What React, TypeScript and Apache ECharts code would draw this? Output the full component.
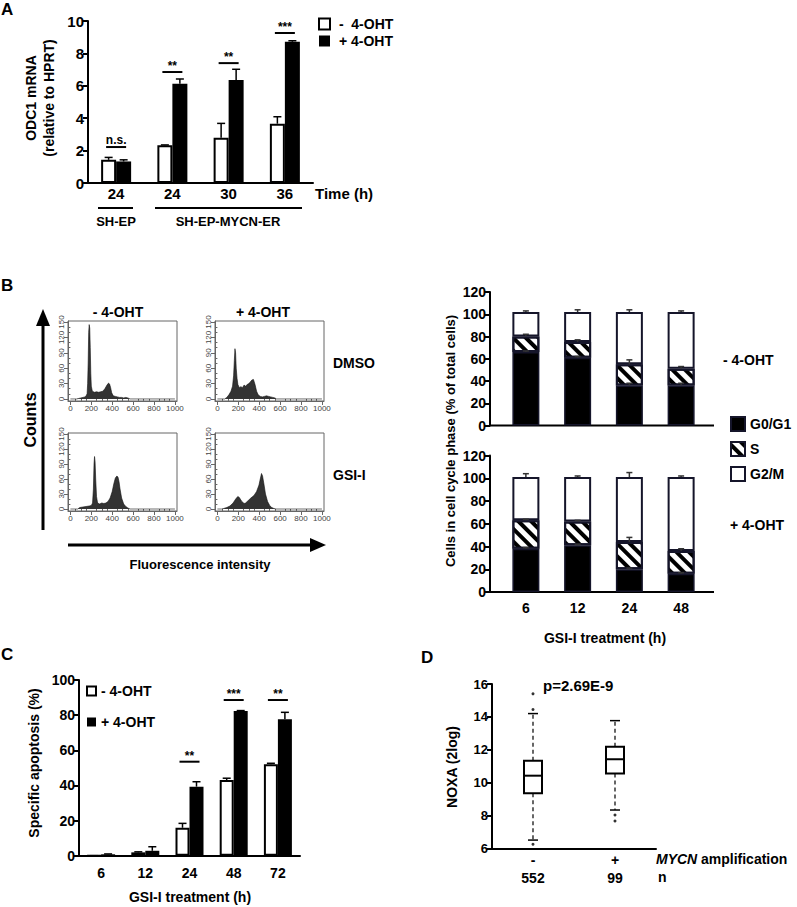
import React, { useEffect, useRef } from 'react';
import * as echarts from 'echarts';

const FONT = '"Liberation Sans", Arial, Helvetica, sans-serif';

// ---------- Panel A ----------
const aTimes = ['24', '24', '30', '36'];
const aMinus = [1.43, 2.33, 2.8, 3.66];
const aMinusErr = [0.15, 0.02, 0.88, 0.43];
const aPlus = [1.33, 6.13, 6.36, 8.72];
const aPlusErr = [0.1, 0.29, 0.66, 0.06];
const aSigIdx = [0, 1, 2, 3];
const aSigY = [2.22, 6.85, 7.4, 9.26];
const aSigLabels = ['n.s.', '**', '**', '***'];

// ---------- Panel B: flow histograms [fluorescence, counts] ----------
const histXMajor = [0, 200, 400, 600, 800, 1000];
const histXMinor = [50, 100, 150, 250, 300, 350, 450, 500, 550, 650, 700, 750, 850, 900, 950];
const histYMajor = [0, 30, 60, 90, 120, 150];
const histYMinor = [10, 20, 40, 50, 70, 80, 100, 110, 130, 140];
const histDmsoMinus = [[0, 0], [60, 0], [80, 1], [100, 2], [120, 3], [140, 4], [150, 6], [160, 10], [165, 30], [170, 70], [175, 130], [180, 145], [185, 138], [190, 100], [195, 50], [200, 25], [210, 15], [230, 13], [250, 14], [270, 13], [290, 14], [310, 15], [330, 20], [350, 27], [365, 31], [375, 29], [385, 22], [395, 12], [410, 6], [430, 5], [450, 4], [470, 3], [490, 3], [510, 2], [530, 3], [550, 2], [570, 0], [1000, 0]];
const histDmsoPlus = [[0, 0], [70, 0], [90, 3], [110, 8], [130, 15], [145, 25], [155, 45], [162, 75], [168, 98], [174, 90], [180, 60], [188, 40], [196, 28], [210, 22], [225, 24], [240, 22], [255, 27], [270, 25], [285, 28], [300, 30], [315, 33], [330, 37], [345, 38], [360, 28], [375, 15], [390, 8], [410, 5], [430, 4], [450, 5], [470, 6], [490, 5], [510, 4], [530, 3], [550, 2], [565, 0], [1000, 0]];
const histGsiMinus = [[0, 0], [70, 0], [90, 3], [120, 4], [150, 5], [180, 6], [200, 7], [212, 12], [220, 40], [226, 90], [231, 105], [236, 95], [242, 60], [250, 25], [260, 12], [280, 10], [300, 12], [320, 11], [340, 12], [360, 15], [380, 22], [400, 35], [415, 50], [430, 62], [445, 66], [455, 64], [465, 55], [475, 40], [490, 22], [510, 10], [530, 5], [550, 2], [570, 0], [1000, 0]];
const histGsiPlus = [[0, 0], [40, 0], [60, 1], [90, 3], [120, 6], [150, 12], [175, 20], [195, 25], [210, 23], [230, 16], [255, 11], [270, 12], [290, 16], [320, 22], [350, 27], [375, 35], [398, 48], [410, 60], [422, 71], [432, 66], [445, 50], [460, 30], [480, 15], [500, 7], [520, 3], [540, 1], [560, 0], [1000, 0]];

// ---------- Panel B: cell cycle stacked bars ----------
const bHours = ['6', '12', '24', '48'];
const bMinusG0 = [66, 61, 36, 36];
const bMinusS = [14, 14, 19, 15];
const bMinusG2 = [22, 27, 47, 51];
const bMinusErrG0 = [1, 1, 2, 2];
const bMinusErrS = [2, 2, 4, 2];
const bMinusErrG2 = [1, 2, 2, 1];
const bPlusG0 = [38, 41, 20, 16];
const bPlusS = [25, 21, 24, 20];
const bPlusG2 = [38, 39, 57, 65];
const bPlusErrG0 = [1, 1, 1, 1];
const bPlusErrS = [1, 1, 4, 2];
const bPlusErrG2 = [3, 1, 4, 1];

// ---------- Panel C ----------
const cHours = ['6', '12', '24', '48', '72'];
const cMinus = [0, 1.9, 15.9, 43.1, 52];
const cMinusErr = [0, 0.3, 2.5, 1, 0.6];
const cPlus = [0.8, 2.8, 39.3, 82.4, 77.6];
const cPlusErr = [0.2, 2.3, 2.8, 0.2, 4];
const cSigIdx = [2, 3, 4];
const cSigY = [53.5, 88.6, 88.6];
const cSigLabels = ['**', '***', '**'];

// ---------- Panel D ----------
const dGroups = ['-', '+'];
const dCounts = ['552', '99'];
// [low whisker, q1, median, q3, high whisker]
const dBoxes = [
  [6.5, 9.35, 10.42, 11.33, 14.2],
  [8.33, 10.56, 11.42, 12.18, 13.77],
];
const dOutliers = [[0, 15.4], [0, 14.45], [0, 6.25], [1, 8.03], [1, 7.66]];

function buildOption() {
  const grid: any[] = [];
  const xAxis: any[] = [];
  const yAxis: any[] = [];
  const series: any[] = [];
  const B = '#000';
  const lbl = (size = 14, extra: any = {}) => ({ color: B, fontSize: size, fontWeight: 'bold', fontFamily: FONT, ...extra });
  const yStd = (gi: number, min: number, max: number, interval: number, size = 14, extra: any = {}) => ({
    gridIndex: gi, type: 'value', min, max, interval,
    axisLine: { show: true, lineStyle: { color: B, width: 2 } },
    axisTick: { show: true, length: 5, lineStyle: { color: B, width: 2 } },
    splitLine: { show: false },
    axisLabel: lbl(size, { margin: 4 }),
    ...extra,
  });

  const errSeries = (xi: number, yi: number, vals: number[], errs: number[], offset: number, cap: number, color = B) => ({
    type: 'custom', xAxisIndex: xi, yAxisIndex: yi, z: 4, silent: true,
    data: vals.map((v, i) => [i, v, errs[i]]),
    renderItem: (params: any, api: any) => {
      const i = api.value(0), v = api.value(1), e = api.value(2);
      const p0 = api.coord([i, v]);
      const p1 = api.coord([i, v + e]);
      const x = p0[0] + offset;
      return {
        type: 'group', children: [
          { type: 'line', shape: { x1: x, y1: p0[1], x2: x, y2: p1[1] }, style: { stroke: color, lineWidth: 1.5 } },
          { type: 'line', shape: { x1: x - cap, y1: p1[1], x2: x + cap, y2: p1[1] }, style: { stroke: color, lineWidth: 1.5 } },
        ],
      };
    },
  });

  const sigSeries = (xi: number, yi: number, idx: number[], ys: number[], labels: string[], hw: number) => ({
    type: 'custom', xAxisIndex: xi, yAxisIndex: yi, z: 4, silent: true,
    data: idx.map((c, k) => [c, ys[k]]),
    renderItem: (params: any, api: any) => {
      const p = api.coord([api.value(0), api.value(1)]);
      const label = labels[params.dataIndex];
      return {
        type: 'group', children: [
          { type: 'line', shape: { x1: p[0] - hw, y1: p[1], x2: p[0] + hw, y2: p[1] }, style: { stroke: B, lineWidth: 2 } },
          { type: 'text', x: p[0], y: p[1] - (label === 'n.s.' ? 1 : 0), style: { text: label, fill: B, font: `bold 12px ${FONT}`, textAlign: 'center', textVerticalAlign: 'bottom' } },
        ],
      };
    },
  });

  // ===== A =====
  grid.push({ left: 88, top: 21, width: 225, height: 162 });
  xAxis.push({
    gridIndex: 0, type: 'category', data: aTimes.map((_, i) => 'a' + i),
    axisLine: { show: true, lineStyle: { color: B, width: 2 } }, axisTick: { show: false },
    axisLabel: lbl(15, { margin: 3, formatter: (_v: string, i: number) => aTimes[i] }),
  });
  yAxis.push(yStd(0, 0, 10, 2, 15));
  series.push({ type: 'bar', name: '- 4-OHT', xAxisIndex: 0, yAxisIndex: 0, data: aMinus, barWidth: 15, barGap: '0%', itemStyle: { color: '#fff', borderColor: B, borderWidth: 2 } });
  series.push({ type: 'bar', name: '+ 4-OHT', xAxisIndex: 0, yAxisIndex: 0, data: aPlus, barWidth: 15, barGap: '0%', itemStyle: { color: B } });
  series.push(errSeries(0, 0, aMinus, aMinusErr, -7.5, 4));
  series.push(errSeries(0, 0, aPlus, aPlusErr, 7.5, 4));
  series.push(sigSeries(0, 0, aSigIdx, aSigY, aSigLabels, 10));

  // ===== B histograms =====
  const addHist = (left: number, top: number, height: number, data: number[][]) => {
    const gi = grid.length;
    grid.push({ left, top, width: 109, height, show: true, borderColor: '#666', borderWidth: 1 });
    const xi = xAxis.length;
    const yi = yAxis.length;
    const small = { fontSize: 8, color: '#444', fontFamily: FONT, fontWeight: 'normal', formatter: (v: number) => String(v) };
    xAxis.push({
      gridIndex: gi, type: 'value', position: 'bottom', min: -23, max: 1020,
      axisLine: { show: true, onZero: false, lineStyle: { color: '#666', width: 1 } },
      axisTick: { show: true, length: 4, customValues: histXMajor, lineStyle: { color: '#666' } },
      axisLabel: { show: true, customValues: histXMajor, margin: 3, ...small },
      splitLine: { show: false },
    });
    xAxis.push({
      gridIndex: gi, type: 'value', position: 'bottom', min: -23, max: 1020,
      axisLine: { show: false }, axisLabel: { show: false }, splitLine: { show: false },
      axisTick: { show: true, length: 2, customValues: histXMinor, lineStyle: { color: '#666' } },
    });
    yAxis.push({
      gridIndex: gi, type: 'value', position: 'left', min: -4, max: 152,
      axisLine: { show: true, onZero: false, lineStyle: { color: '#666', width: 1 } },
      axisTick: { show: true, length: 4, customValues: histYMajor, lineStyle: { color: '#666' } },
      axisLabel: { show: true, customValues: histYMajor, rotate: 90, margin: 3, ...small },
      splitLine: { show: false },
    });
    yAxis.push({
      gridIndex: gi, type: 'value', position: 'left', min: -4, max: 152,
      axisLine: { show: false }, axisLabel: { show: false }, splitLine: { show: false },
      axisTick: { show: true, length: 2, customValues: histYMinor, lineStyle: { color: '#666' } },
    });
    series.push({
      type: 'line', xAxisIndex: xi, yAxisIndex: yi, data, symbol: 'none', silent: true,
      lineStyle: { color: '#111', width: 0.6 }, areaStyle: { color: '#333', opacity: 1 },
    });
  };
  addHist(68, 321, 80, histDmsoMinus);
  addHist(215, 321, 80, histDmsoPlus);
  addHist(68, 433, 78, histGsiMinus);
  addHist(215, 433, 78, histGsiPlus);

  // ===== B stacked =====
  const hatch = {
    symbol: 'rect', symbolSize: 1, color: B,
    dashArrayX: [1, 0], dashArrayY: [4, 5], rotation: Math.PI / 4,
  };
  const barBorder = '#15152a';
  const addStack = (top: number, height: number, g0: number[], s: number[], g2: number[], e0: number[], es: number[], e2: number[], showLabels: boolean, stackId: string) => {
    const gi = grid.length;
    grid.push({ left: 500, top, width: 207, height });
    const xi = xAxis.length;
    const yi = yAxis.length;
    xAxis.push({
      gridIndex: gi, type: 'category', data: bHours,
      axisLine: { show: false }, axisTick: { show: false },
      axisLabel: showLabels ? lbl(14, { margin: 9 }) : { show: false },
    });
    yAxis.push(yStd(gi, 0, 120, 20, 14, { offset: 10 }));
    series.push({ type: 'bar', name: 'G0/G1', stack: stackId, xAxisIndex: xi, yAxisIndex: yi, data: g0, barWidth: 27, itemStyle: { color: B, borderColor: barBorder, borderWidth: 1.5 } });
    series.push({ type: 'bar', name: 'S', stack: stackId, xAxisIndex: xi, yAxisIndex: yi, data: s, barWidth: 27, itemStyle: { color: '#fff', borderColor: barBorder, borderWidth: 2, decal: hatch } });
    series.push({ type: 'bar', name: 'G2/M', stack: stackId, xAxisIndex: xi, yAxisIndex: yi, data: g2, barWidth: 27, itemStyle: { color: '#fff', borderColor: barBorder, borderWidth: 2 } });
    const top0 = g0;
    const top1 = g0.map((v, i) => v + s[i]);
    const top2 = top1.map((v, i) => v + g2[i]);
    series.push(errSeries(xi, yi, top0, e0, 0, 3, '#333'));
    series.push(errSeries(xi, yi, top1, es, 0, 3, '#333'));
    series.push(errSeries(xi, yi, top2, e2, 0, 3, '#333'));
  };
  addStack(292, 133.5, bMinusG0, bMinusS, bMinusG2, bMinusErrG0, bMinusErrS, bMinusErrG2, false, 'minus');
  addStack(455.5, 136.5, bPlusG0, bPlusS, bPlusG2, bPlusErrG0, bPlusErrS, bPlusErrG2, true, 'plus');

  // ===== C =====
  const cg = grid.length;
  grid.push({ left: 79, top: 680, width: 221, height: 175.7 });
  const cx = xAxis.length;
  const cy = yAxis.length;
  xAxis.push({
    gridIndex: cg, type: 'category', data: cHours,
    axisLine: { show: true, lineStyle: { color: B, width: 2 } }, axisTick: { show: false },
    axisLabel: lbl(14, { margin: 10 }),
  });
  yAxis.push(yStd(cg, 0, 100, 20, 14));
  series.push({ type: 'bar', name: '- 4-OHT', xAxisIndex: cx, yAxisIndex: cy, data: cMinus, barWidth: 14, barGap: '0%', itemStyle: { color: '#fff', borderColor: B, borderWidth: 2 } });
  series.push({ type: 'bar', name: '+ 4-OHT', xAxisIndex: cx, yAxisIndex: cy, data: cPlus, barWidth: 14, barGap: '0%', itemStyle: { color: B } });
  series.push(errSeries(cx, cy, cMinus, cMinusErr, -7, 4));
  series.push(errSeries(cx, cy, cPlus, cPlusErr, 7, 4));
  series.push(sigSeries(cx, cy, cSigIdx, cSigY, cSigLabels, 10));

  // ===== D =====
  const dg = grid.length;
  grid.push({ left: 492, top: 684, width: 164, height: 164.3 });
  const dx = xAxis.length;
  const dy = yAxis.length;
  xAxis.push({
    gridIndex: dg, type: 'category', data: dGroups,
    axisLine: { show: true, lineStyle: { color: B, width: 2 } }, axisTick: { show: false },
    axisLabel: lbl(14, { margin: 3, lineHeight: 18, formatter: (v: string, i: number) => v + '\n' + dCounts[i] }),
  });
  yAxis.push(yStd(dg, 6, 16, 2, 13));
  series.push({
    type: 'custom', xAxisIndex: dx, yAxisIndex: dy, silent: true,
    data: dBoxes.map((b, i) => [i, ...b]),
    renderItem: (params: any, api: any) => {
      const i = api.value(0);
      const lo = api.coord([i, api.value(1)]);
      const q1 = api.coord([i, api.value(2)]);
      const md = api.coord([i, api.value(3)]);
      const q3 = api.coord([i, api.value(4)]);
      const hi = api.coord([i, api.value(5)]);
      const x = md[0];
      const hw = 9, cw = 5;
      const dash = { stroke: B, lineWidth: 1.2, lineDash: [4, 3] };
      const solid = { stroke: B, lineWidth: 1.5 };
      return {
        type: 'group', children: [
          { type: 'line', shape: { x1: x, y1: q3[1], x2: x, y2: hi[1] }, style: dash },
          { type: 'line', shape: { x1: x, y1: q1[1], x2: x, y2: lo[1] }, style: dash },
          { type: 'line', shape: { x1: x - cw, y1: hi[1], x2: x + cw, y2: hi[1] }, style: solid },
          { type: 'line', shape: { x1: x - cw, y1: lo[1], x2: x + cw, y2: lo[1] }, style: solid },
          { type: 'rect', shape: { x: x - hw, y: q3[1], width: 2 * hw, height: q1[1] - q3[1] }, style: { fill: '#fff', stroke: B, lineWidth: 2 } },
          { type: 'line', shape: { x1: x - hw, y1: md[1], x2: x + hw, y2: md[1] }, style: { stroke: B, lineWidth: 2 } },
        ],
      };
    },
  });
  series.push({ type: 'scatter', xAxisIndex: dx, yAxisIndex: dy, data: dOutliers, symbol: 'circle', symbolSize: 3, itemStyle: { color: B }, silent: true });

  grid.forEach((g) => { g.outerBoundsMode = 'none'; g.containLabel = false; });

  // ===== Text & decorations =====
  const T = (x: number, y: number, text: string, size = 14, align = 'left', extra: any = {}) => ({
    type: 'text', x, y, silent: true,
    style: { text, fill: B, font: `bold ${size}px ${FONT}`, textAlign: align, textVerticalAlign: 'middle', ...extra },
  });
  const R = (x: number, y: number, text: string, size = 14, extra: any = {}) => ({
    type: 'text', x, y, rotation: Math.PI / 2, silent: true,
    style: { text, fill: B, font: `bold ${size}px ${FONT}`, textAlign: 'center', textVerticalAlign: 'middle', ...extra },
  });
  const L = (x1: number, y1: number, x2: number, y2: number, w = 2) => ({
    type: 'line', silent: true, shape: { x1, y1, x2, y2 }, style: { stroke: B, lineWidth: w },
  });
  const graphic: any[] = [
    // A
    T(1, 9, 'A', 17),
    R(39.5, 98, 'ODC1 mRNA\n(relative to HPRT)', 14, { lineHeight: 18 }),
    T(315, 193, 'Time (h)', 15),
    L(98, 208, 133, 208),
    T(116, 221, 'SH-EP', 13, 'center'),
    L(155, 208, 302, 208),
    T(228, 221, 'SH-EP-MYCN-ER', 13, 'center'),
    // B
    T(1, 285, 'B', 17),
    T(118, 312, '- 4-OHT', 14, 'center'),
    T(263, 312, '+ 4-OHT', 14, 'center'),
    T(333, 363, 'DMSO', 14),
    T(333, 475, 'GSI-I', 14),
    L(43, 322, 43, 530, 3),
    { type: 'polygon', silent: true, shape: { points: [[43, 309], [36, 326], [50, 326]] }, style: { fill: B } },
    R(30, 420, 'Counts', 16),
    L(68, 545, 313, 545, 3),
    { type: 'polygon', silent: true, shape: { points: [[326, 545], [310, 538], [310, 552]] }, style: { fill: B } },
    T(200, 564, 'Fluorescence intensity', 13, 'center'),
    L(490, 425.5, 714, 425.5),
    L(490, 592, 714, 592),
    R(450.5, 441, 'Cells in cell cycle phase (% of total cells)', 13),
    T(723, 360, '- 4-OHT', 14),
    T(730, 525, '+ 4-OHT', 14),
    T(605, 638, 'GSI-I treatment (h)', 14, 'center'),
    // C
    T(1, 654, 'C', 17),
    R(34, 763, 'Specific apoptosis (%)', 14),
    T(190, 897, 'GSI-I treatment (h)', 14, 'center'),
    // D
    T(421, 657, 'D', 17),
    R(451.5, 767, 'NOXA (2log)', 14),
    T(543, 685, 'p=2.69E-9', 15),
    T(656, 859, 'MYCN', 14, 'left', { font: `italic bold 14px ${FONT}` }),
    T(701, 859, 'amplification', 14),
    T(658, 877, 'n', 14),
  ];

  const legendText = { color: B, fontSize: 14, fontWeight: 'bold', fontFamily: FONT };
  return {
    animation: false,
    backgroundColor: '#fff',
    textStyle: { fontFamily: FONT },
    grid, xAxis, yAxis, series, graphic,
    legend: [
      {
        left: 318, top: 17, padding: 0, orient: 'vertical', itemWidth: 11, itemHeight: 11, itemGap: 3,
        data: ['- 4-OHT', '+ 4-OHT'], selectedMode: false, icon: 'rect',
        formatter: (n: string) => (n === '- 4-OHT' ? ' -  4-OHT' : ' ' + n), textStyle: legendText,
      },
      {
        left: 730, top: 416, padding: 0, orient: 'vertical', itemWidth: 14, itemHeight: 14, itemGap: 9,
        data: ['G0/G1', 'S', 'G2/M'], selectedMode: false, icon: 'rect', textStyle: legendText,
      },
      {
        left: 86, top: 684, padding: 0, orient: 'vertical', itemWidth: 9, itemHeight: 9, itemGap: 17,
        data: ['- 4-OHT', '+ 4-OHT'], selectedMode: false, icon: 'rect', textStyle: legendText,
      },
    ],
  };
}

export default function App() {
  const ref = useRef<HTMLDivElement>(null);
  useEffect(() => {
    const chart = echarts.init(ref.current!, null, { renderer: 'svg' });
    chart.setOption(buildOption() as any);
    return () => chart.dispose();
  }, []);
  return <div ref={ref} style={{ position: 'absolute', left: 0, top: 0, width: 797, height: 907, background: '#fff' }} />;
}
